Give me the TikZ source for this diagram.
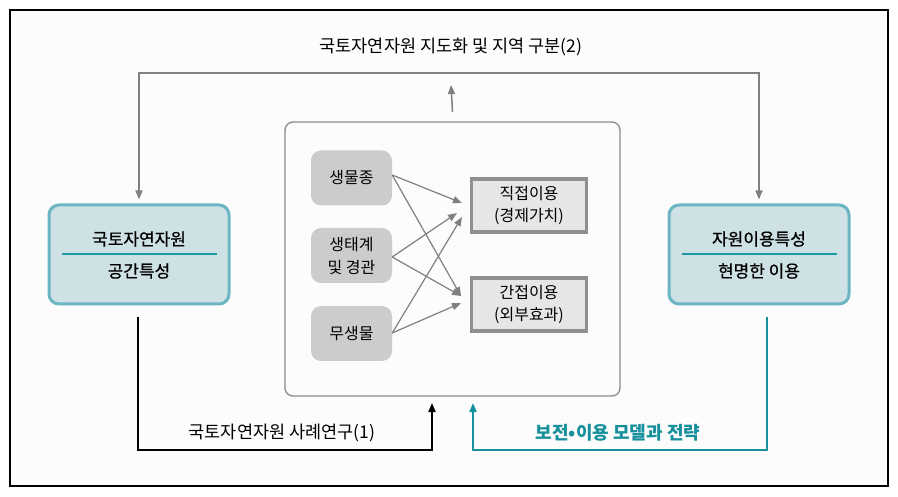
\documentclass[tikz,border=0pt]{standalone}
\usepackage{fontspec}
\setmainfont{Noto Sans CJK KR}
\newfontfamily\medfont{Noto Sans CJK KR}[FakeBold=0.7]
\usetikzlibrary{arrows.meta}
\definecolor{lineg}{HTML}{808080}
\definecolor{tealb}{HTML}{6CB5C2}
\definecolor{tealf}{HTML}{CEE1E5}
\definecolor{teald}{HTML}{1B9AA6}
\definecolor{tealt}{HTML}{16909C}
\definecolor{nodeg}{HTML}{CCCCCC}
\definecolor{usef}{HTML}{E6E6E6}
\definecolor{used}{HTML}{8F8F8F}
\definecolor{innerd}{HTML}{8A8A8A}
\definecolor{bgc}{HTML}{FCFCFC}
\tikzset{
  mainbox/.style={draw=tealb, fill=tealf, line width=3pt, rounded corners=10pt, minimum width=180pt, minimum height=99pt, inner sep=0pt},
  divline/.style={draw=teald, line width=1.6pt},
  boxtxt/.style={font=\medfont\fontsize{17}{19}\selectfont, inner sep=0pt},
  itemnode/.style={fill=nodeg, rounded corners=10pt, minimum width=81pt, minimum height=55pt, align=center, inner sep=0pt, font=\fontsize{16}{23}\selectfont},
  usebox/.style={draw=used, fill=usef, line width=3.5pt, minimum width=115pt, minimum height=53pt, align=center, inner sep=0pt, font=\fontsize{16}{22}\selectfont},
  garrow/.style={draw=lineg, line width=1.5pt, -{Triangle[length=9pt,width=7pt]}},
  xarrow/.style={draw=lineg, line width=1.2pt, -{Triangle[length=9pt,width=7pt]}},
  lbl/.style={font=\fontsize{17.5}{19}\selectfont, inner sep=0pt}
}
\begin{document}
\begin{tikzpicture}[x=1pt,y=-1pt]
\useasboundingbox (0,0) rectangle (898,497);
\draw[fill=bgc, draw=black, line width=1.2pt] (10,10) rectangle (888,486);
% inner container
\node[draw=innerd, line width=1.3pt, rounded corners=8pt, minimum width=335pt, minimum height=274pt, inner sep=0pt] (inner) at (452.5,259) {};
% main boxes
\node[mainbox] (lbox) at (139,254.5) {};
\node[boxtxt] (ltop) at (139,239) {국토자연자원};
\node[boxtxt] (lbot) at (139,271) {공간특성};
\draw[divline] ([xshift=14pt,yshift=0.5pt]lbox.west) -- ([xshift=-14pt,yshift=0.5pt]lbox.east);
\node[mainbox] (rbox) at (759,254.5) {};
\node[boxtxt] (rtop) at (759,239) {자원이용특성};
\node[boxtxt] (rbot) at (759,271) {현명한 이용};
\draw[divline] ([xshift=14pt,yshift=0.5pt]rbox.west) -- ([xshift=-14pt,yshift=0.5pt]rbox.east);
% items
\node[itemnode] (bio) at (351.5,178) {생물종};
\node[itemnode] (eco) at (351.5,255.5) {생태계\\및 경관};
\node[itemnode] (abio) at (351.5,333.5) {무생물};
\node[usebox] (direct) at (529,205.5) {직접이용\\(경제가치)};
\node[usebox] (indirect) at (529,304.5) {간접이용\\(외부효과)};
% crossing arrows
\coordinate (d1) at (462,203);
\coordinate (d2) at (457,213);
\coordinate (d3) at (462,217);
\coordinate (i1) at (461,296);
\coordinate (i2) at (461,303);
\draw[xarrow] (bio.east |- 0,175) -- (d1);
\draw[xarrow] (bio.east |- 0,175) -- (i1);
\draw[xarrow] (eco.east |- 0,257) -- (d2);
\draw[xarrow] (eco.east |- 0,257) -- (i1);
\draw[xarrow] (abio.east |- 0,333) -- (d3);
\draw[xarrow] (abio.east |- 0,333) -- (i2);
% top labels and arrows
\node[lbl] (toplbl) at (451,47) {국토자연자원 지도화 및 지역 구분(2)};
\coordinate (topmid) at (451,73);
\coordinate (upend) at (451,85);
\draw[garrow] (inner.north |- 0,112) -- (upend);
\draw[draw=lineg, line width=1.5pt, {Triangle[length=9pt,width=7pt]}-{Triangle[length=9pt,width=7pt]}, shorten <=4pt, shorten >=4pt] (lbox.north) |- (topmid) -| (rbox.north);
% bottom black
\coordinate (bs) at (138,317);
\coordinate (bc) at (432,450);
\coordinate (be) at (432,403);
\draw[draw=black, line width=2pt, -{Triangle[length=9pt,width=7pt]}] (bs) |- (bc) -- (be);
\node[lbl] (caselbl) at (282,433) {국토자연자원 사례연구(1)};
% bottom teal
\coordinate (ts) at (767,317);
\coordinate (tc) at (473,450);
\coordinate (te) at (473,403);
\draw[draw=tealt, line width=2pt, -{Triangle[length=9pt,width=7pt]}] (ts) |- (tc) -- (te);
\node[lbl, text=tealt, font=\fontsize{18}{19}\selectfont\bfseries] (modellbl) at (618,433) {보전•이용 모델과 전략};
\end{tikzpicture}
\end{document}
